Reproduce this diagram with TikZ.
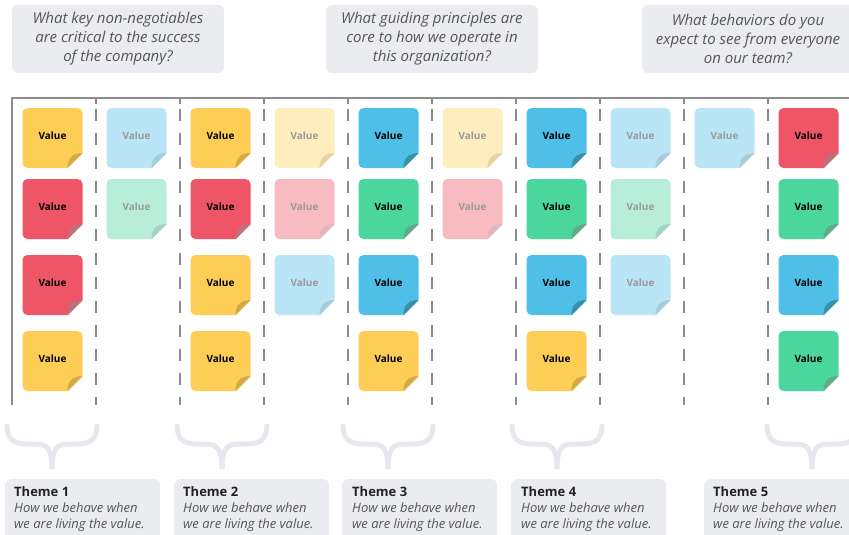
\documentclass[tikz,border=0pt]{standalone}
\usepackage{fontspec}
\setmainfont{Open Sans}
\definecolor{bubble}{HTML}{EBECF0}
\definecolor{bracecol}{HTML}{E7E8ED}
\definecolor{gridcol}{HTML}{8C8C8C}
\definecolor{qtext}{HTML}{555555}
\definecolor{ttitle}{HTML}{222222}
\definecolor{fadetext}{HTML}{9A9A9A}
\definecolor{yel}{HTML}{FECD55}\definecolor{yelF}{HTML}{D6A948}
\definecolor{red}{HTML}{EE5566}\definecolor{redF}{HTML}{B8737E}
\definecolor{grn}{HTML}{4BD69E}\definecolor{grnF}{HTML}{64AA88}
\definecolor{blu}{HTML}{4EBFE7}\definecolor{bluF}{HTML}{3C90A6}
\definecolor{lblu}{HTML}{B9E5F6}\definecolor{lbluF}{HTML}{A9CDD8}
\definecolor{lgrn}{HTML}{B7EDD9}\definecolor{lgrnF}{HTML}{A5D3C2}
\definecolor{lyel}{HTML}{FEEDBD}\definecolor{lyelF}{HTML}{E6D3A6}
\definecolor{lpnk}{HTML}{F8BBC2}\definecolor{lpnkF}{HTML}{DDB8BD}
\tikzset{
  qbox/.style={fill=bubble, rounded corners=6pt, minimum width=212pt, minimum height=68pt, inner sep=0pt, align=center, text=qtext, font=\itshape\fontsize{15}{19}\selectfont},
  tbox/.style={fill=bubble, rounded corners=6pt, minimum width=155pt, minimum height=70pt, inner sep=0pt, anchor=north west},
  ttext/.style={anchor=base west, align=left, inner sep=0pt, font=\fontsize{13}{16}\selectfont, text=qtext},
  bracestyle/.style={draw=bracecol, line width=5pt},
  gridline/.style={draw=gridcol, line width=1.3pt},
  dashline/.style={draw=gridcol, line width=1.3pt, dash pattern=on 12pt off 12pt, dash phase=13pt},
  valtext/.style={font=\bfseries\fontsize{10}{11}\selectfont, inner sep=0pt}
}
\newcommand\stickynote[6]{%
  \begin{scope}[shift={(#2,#3)}]
    \fill[#4, rounded corners=5pt] (-30,-30) rectangle (30,30);
    \fill[white] (30.6,15) -- (30.6,30.6) -- (15,30.6) -- cycle;
    \fill[#5] (30,15) .. controls (20,15) and (15,20) .. (15,30) -- cycle;
    \node[valtext, text=#6] (#1) at (0,-2.5) {Value};
  \end{scope}}
\newcommand\curlybrace[3]{% name, left x, mid x
  \draw[bracestyle] (#2,424) .. controls (#2,439) and (#2+6,444) .. (#2+20,444) -- (#3-16,444) .. controls (#3-5,444) and (#3,449) .. (#3,469);
  \draw[bracestyle] (2*#3-#2,424) .. controls (2*#3-#2,439) and (2*#3-#2-6,444) .. (2*#3-#2-20,444) -- (#3+16,444) .. controls (#3+5,444) and (#3,449) .. (#3,469);
  \coordinate (#1) at (#3,469);}
\begin{document}
\begin{tikzpicture}[x=1pt,y=-1pt]
\useasboundingbox (0,0) rectangle (849,535);
% question bubbles
\node[qbox] (q1) at (118,39) {What key non-negotiables\\are critical to the success\\of the company?};
\node[qbox] (q2) at (432,39) {What guiding principles are\\core to how we operate in\\this organization?};
\node[qbox] (q3) at (748,39) {What behaviors do you\\expect to see from everyone\\on our team?};
% grid
\coordinate (gTL) at (12,98);
\coordinate (gTR) at (849,98);
\coordinate (gBL) at (12,405);
\draw[gridline] (gBL) -- (gTL) -- (gTR);
\foreach \i in {1,...,9}{
  \coordinate (dt\i) at (12+84*\i,98);
  \coordinate (db\i) at (12+84*\i,405);
  \draw[gridline] (dt\i) -- ++(0,6);
  \draw[dashline] (dt\i) -- (db\i);
}
% col 1
\stickynote{n11}{52.5}{138}{yel}{yelF}{black}
\stickynote{n12}{52.5}{209}{red}{redF}{black}
\stickynote{n13}{52.5}{285}{red}{redF}{black}
\stickynote{n14}{52.5}{361}{yel}{yelF}{black}
% col 2
\stickynote{n21}{136.5}{138}{lblu}{lbluF}{fadetext}
\stickynote{n22}{136.5}{209}{lgrn}{lgrnF}{fadetext}
% col 3
\stickynote{n31}{220.5}{138}{yel}{yelF}{black}
\stickynote{n32}{220.5}{209}{red}{redF}{black}
\stickynote{n33}{220.5}{285}{yel}{yelF}{black}
\stickynote{n34}{220.5}{361}{yel}{yelF}{black}
% col 4
\stickynote{n41}{304.5}{138}{lyel}{lyelF}{fadetext}
\stickynote{n42}{304.5}{209}{lpnk}{lpnkF}{fadetext}
\stickynote{n43}{304.5}{285}{lblu}{lbluF}{fadetext}
% col 5
\stickynote{n51}{388.5}{138}{blu}{bluF}{black}
\stickynote{n52}{388.5}{209}{grn}{grnF}{black}
\stickynote{n53}{388.5}{285}{blu}{bluF}{black}
\stickynote{n54}{388.5}{361}{yel}{yelF}{black}
% col 6
\stickynote{n61}{472.5}{138}{lyel}{lyelF}{fadetext}
\stickynote{n62}{472.5}{209}{lpnk}{lpnkF}{fadetext}
% col 7
\stickynote{n71}{556.5}{138}{blu}{bluF}{black}
\stickynote{n72}{556.5}{209}{grn}{grnF}{black}
\stickynote{n73}{556.5}{285}{blu}{bluF}{black}
\stickynote{n74}{556.5}{361}{yel}{yelF}{black}
% col 8
\stickynote{n81}{640.5}{138}{lblu}{lbluF}{fadetext}
\stickynote{n82}{640.5}{209}{lgrn}{lgrnF}{fadetext}
\stickynote{n83}{640.5}{285}{lblu}{lbluF}{fadetext}
% col 9
\stickynote{n91}{724.5}{138}{lblu}{lbluF}{fadetext}
% col 10
\stickynote{n101}{808.5}{138}{red}{redF}{black}
\stickynote{n102}{808.5}{209}{grn}{grnF}{black}
\stickynote{n103}{808.5}{285}{blu}{bluF}{black}
\stickynote{n104}{808.5}{361}{grn}{grnF}{black}
% braces
\curlybrace{b1}{7}{52}
\curlybrace{b2}{177}{222}
\curlybrace{b3}{343}{388}
\curlybrace{b4}{512}{557}
\curlybrace{b5}{767}{812}
% theme boxes
\node[tbox] (t1) at (5,479) {};
\node[tbox] (t2) at (174,479) {};
\node[tbox] (t3) at (342,479) {};
\node[tbox] (t4) at (511,479) {};
\node[tbox] (t5) at (704,479) {};
\foreach \n/\x in {1/14,2/183,3/352,4/521,5/713}{
  \node[ttext] (tt\n) at (\x,528.5) {{\bfseries\color{ttitle}Theme \n}\\\itshape How we behave when\\\itshape we are living the value.};
}
\end{tikzpicture}
\end{document}
